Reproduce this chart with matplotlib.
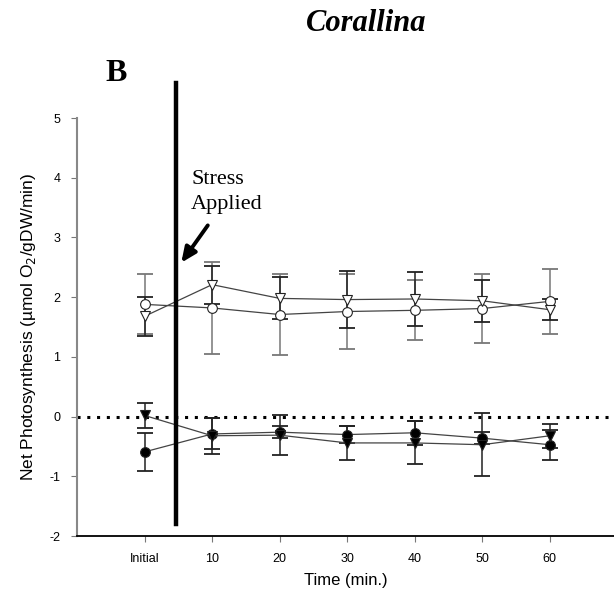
import matplotlib.pyplot as plt

# data
times = ['Initial', '10', '20', '30', '40', '50', '60']

open_circle = [1.88, 1.82, 1.71, 1.76, 1.78, 1.81, 1.93]
open_circle_err = [0.50, 0.77, 0.68, 0.63, 0.50, 0.57, 0.54]

open_tri = [1.68, 2.21, 1.98, 1.96, 1.97, 1.94, 1.79]
open_tri_err = [0.33, 0.32, 0.35, 0.48, 0.45, 0.35, 0.18]

filled_circle = [-0.59, -0.29, -0.26, -0.30, -0.27, -0.36, -0.47]
filled_circle_err = [0.32, 0.26, 0.10, 0.14, 0.20, 0.10, 0.25]

filled_tri = [0.02, -0.32, -0.31, -0.44, -0.44, -0.47, -0.32]
filled_tri_err = [0.21, 0.30, 0.34, 0.28, 0.36, 0.53, 0.20]

x = list(range(len(times)))

fig = plt.figure(figsize=(6.14, 5.99), dpi=100)
ax = fig.add_axes([0.1254, 0.105, 0.8746, 0.698])

series = [
    (open_circle, open_circle_err, 'o', 'white', '#777777'),
    (open_tri, open_tri_err, 'v', 'white', '#222222'),
    (filled_circle, filled_circle_err, 'o', 'black', '#222222'),
    (filled_tri, filled_tri_err, 'v', 'black', '#222222'),
]
for vals, errs, m, fc, ecol in series:
    ax.errorbar(x, vals, yerr=errs, fmt='none', ecolor=ecol, elinewidth=1.1,
                capsize=6, capthick=1.3, zorder=2)
    ax.plot(x, vals, color='#444444', lw=0.9, marker=m, markersize=7,
            markerfacecolor=fc, markeredgecolor='#222222', markeredgewidth=0.8, zorder=3)

# zero reference and stress line
ax.axhline(0, color='black', ls=(0, (1, 2.2)), lw=2.2, zorder=1)
ax.plot([0.46, 0.46], [-1.8, 5.58], color='black', lw=3.2, clip_on=False, zorder=4)

ax.annotate('', xy=(0.52, 2.54), xytext=(0.96, 3.24),
            arrowprops=dict(arrowstyle='-|>,head_length=0.9,head_width=0.4',
                            color='black', lw=2.8))
ax.text(0.69, 3.76, 'Stress\nApplied', fontsize=16, family='Liberation Serif',
        va='center', ha='left', linespacing=1.4)

ax.set_xlim(-1, 6.95)
ax.set_ylim(-2, 5)
ax.set_xticks(x)
ax.set_xticklabels(times, fontsize=9, family='Liberation Sans')
ax.set_yticks(range(-2, 6))
ax.set_yticklabels([str(v) for v in range(-2, 6)], fontsize=9, family='Liberation Sans')
ax.tick_params(axis='both', length=4, color='#777777', pad=8)

for s in ['top', 'right']:
    ax.spines[s].set_visible(False)
ax.spines['left'].set_color('#888888')
ax.spines['left'].set_linewidth(1.5)
ax.spines['bottom'].set_linewidth(1.3)

ax.set_xlabel('Time (min.)', fontsize=12, family='Liberation Sans', labelpad=6)
ax.set_ylabel('Net Photosynthesis (µmol O$_2$/gDW/min)', fontsize=12.5,
              family='Liberation Sans', labelpad=8)

fig.text(0.597, 0.961, 'Corallina', fontsize=22, family='Liberation Serif',
         weight='bold', style='italic', ha='center', va='center')
fig.text(0.171, 0.878, 'B', fontsize=23, family='Liberation Serif',
         weight='bold', ha='left', va='center')

fig.savefig('out.png', dpi=100)
